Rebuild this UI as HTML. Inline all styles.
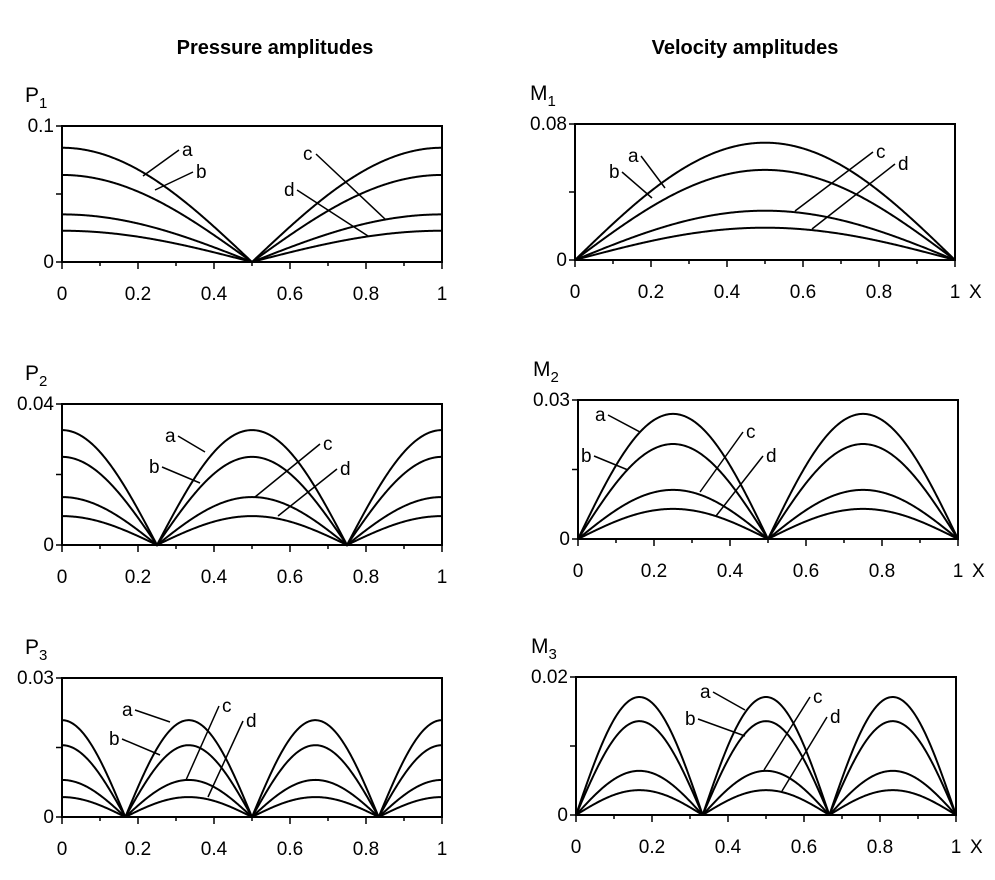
<!DOCTYPE html>
<html><head><meta charset="utf-8"><style>
body{margin:0;background:#fff}
svg text{font-family:"Liberation Sans",Arial,sans-serif;fill:#000}
</style></head><body>
<svg id="c" width="995" height="875" xmlns="http://www.w3.org/2000/svg">
<text x="275" y="54" font-size="20" font-weight="bold" text-anchor="middle">Pressure  amplitudes</text>
<text x="745" y="54" font-size="20" font-weight="bold" text-anchor="middle">Velocity amplitudes</text>
</svg>
<script>
// amplitudes of curves a,b,c,d per panel
const seriesNames=['a','b','c','d'];
const p1Values=[0.084,0.064,0.035,0.023];
const p2Values=[0.0326,0.025,0.0136,0.0082];
const p3Values=[0.0209,0.0155,0.008,0.0043];
const m1Values=[0.069,0.053,0.029,0.019];
const m2Values=[0.027,0.0205,0.0106,0.0065];
const m3Values=[0.0171,0.0136,0.0064,0.0036];
const xTickLabels=['0','0.2','0.4','0.6','0.8','1'];
const yMaxLabels=['0.1','0.04','0.03','0.08','0.03','0.02'];
const yMaxValues=[0.1,0.04,0.03,0.08,0.03,0.02];

const svg=document.getElementById('c');
const NS='http://www.w3.org/2000/svg';
function mk(tag,attrs,parent){const e=document.createElementNS(NS,tag);for(const k in attrs)e.setAttribute(k,attrs[k]);(parent||svg).appendChild(e);return e;}

const panels=[
 {id:'p1',lab:'P',n:1,mode:1,type:'cos',vals:p1Values,ym:0,x0:62,x1:442,y0:126,y1:262,xl:false,
  ann:[['a',182,156,143,176],['b',196,178,155,190],['c',303,160,385,219],['d',284,196,368,236]]},
 {id:'p2',lab:'P',n:2,mode:2,type:'cos',vals:p2Values,ym:1,x0:62,x1:442,y0:404,y1:545,xl:false,
  ann:[['a',165,442,205,452],['b',149,473,200,483],['c',323,450,255,497],['d',340,475,278,516]]},
 {id:'p3',lab:'P',n:3,mode:3,type:'cos',vals:p3Values,ym:2,x0:62,x1:442,y0:678,y1:817,xl:false,
  ann:[['a',122,716,170,722],['b',109,745,160,755],['c',222,712,186,780],['d',246,727,208,797]]},
 {id:'m1',lab:'M',n:1,mode:1,type:'sin',vals:m1Values,ym:3,x0:575,x1:955,y0:124,y1:260,xl:true,
  ann:[['a',628,162,665,188],['b',609,178,652,198],['c',876,158,795,211],['d',898,170,812,229]]},
 {id:'m2',lab:'M',n:2,mode:2,type:'sin',vals:m2Values,ym:4,x0:578,x1:958,y0:400,y1:539,xl:true,
  ann:[['a',595,421,640,432],['b',581,462,628,470],['c',746,438,700,492],['d',766,462,716,516]]},
 {id:'m3',lab:'M',n:3,mode:3,type:'sin',vals:m3Values,ym:5,x0:576,x1:956,y0:677,y1:815,xl:true,
  ann:[['a',700,698,745,710],['b',685,725,745,736],['c',813,703,764,770],['d',830,723,782,791]]}
];

panels.forEach(p=>{
 const g=mk('g',{});
 
 
 const ymax=yMaxValues[p.ym];
 const X=v=>p.x0+v*(p.x1-p.x0);
 const Y=v=>p.y1-v/ymax*(p.y1-p.y0);
 const frame=mk('rect',{x:p.x0,y:p.y0,width:p.x1-p.x0,height:p.y1-p.y0,fill:'none',stroke:'#000','stroke-width':2},g);
 
 
 for(let i=0;i<=10;i++){
  const t=mk('line',{x1:X(i/10),x2:X(i/10),y1:p.y1,y2:p.y1+(i%2?4:7),stroke:'#000','stroke-width':1.5},g);
  
  
 }
 xTickLabels.forEach((s,i)=>{
  const t=mk('text',{x:X(i*0.2),y:p.y1+38,'font-size':19,'text-anchor':'middle'},g);
  t.textContent=s;
  
  
 });
 if(p.xl){const t=mk('text',{x:p.x1+14,y:p.y1+38,'font-size':19},g);t.textContent='X';
  
  }
 [0,0.5,1].forEach(f=>{const t=mk('line',{x1:p.x0-6,x2:p.x0,y1:Y(f*ymax),y2:Y(f*ymax),stroke:'#000','stroke-width':1.5},g);
  
  });
 [[yMaxLabels[p.ym],ymax],['0',0]].forEach(([s,v])=>{
  const t=mk('text',{x:p.x0-8,y:Y(v)+6,'font-size':19,'text-anchor':'end'},g);t.textContent=s;
  
  });
 const yl=mk('text',{x:p.x0-(p.xl?45:37),y:p.y0-24,'font-size':21},g);
 yl.innerHTML=p.lab+'<tspan font-size="15" dy="6">'+p.n+'</tspan>';
 
 
 p.vals.forEach((A,k)=>{
  let d='';
  for(let i=0;i<=400;i++){const x=i/400;
   const v=A*Math.abs(p.type==='cos'?Math.cos(p.mode*Math.PI*x):Math.sin(p.mode*Math.PI*x));
   d+=(i?'L':'M')+X(x).toFixed(2)+' '+Y(v).toFixed(2);}
  const c=mk('path',{d:d,fill:'none',stroke:'#000','stroke-width':2},g);
  
  
 });
 p.ann.forEach(([s,tx,ty,lx,ly])=>{
  const t=mk('text',{x:tx,y:ty,'font-size':19},g);t.textContent=s;
  
  
  const l=mk('line',{x1:tx<lx?tx+13:tx-3,y1:ty-6,x2:lx,y2:ly,stroke:'#000','stroke-width':1.5},g);
  
  
 });
});
</script>
</body></html>
